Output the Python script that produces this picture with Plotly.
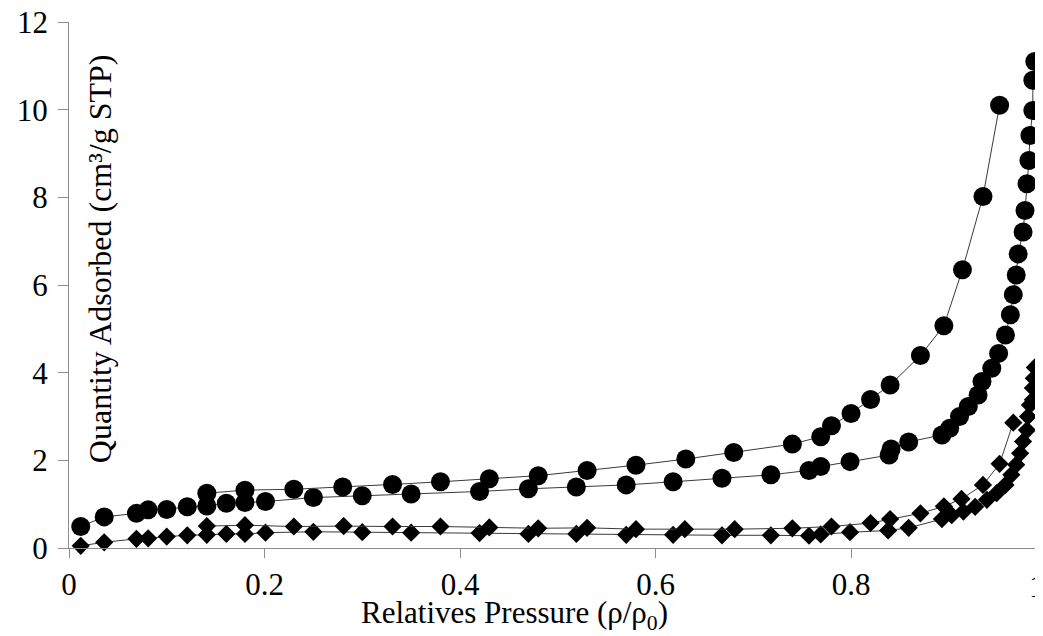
import plotly.graph_objects as go

# Circle series – adsorption (lower branch)
circ_ads_x = [0.012, 0.036, 0.069, 0.081, 0.100, 0.121, 0.141, 0.161, 0.180, 0.201,
              0.250, 0.300, 0.350, 0.420, 0.470, 0.519, 0.570, 0.618, 0.668, 0.718,
              0.757, 0.769, 0.799, 0.839, 0.841, 0.859, 0.893, 0.901, 0.911, 0.920,
              0.930, 0.934, 0.944, 0.951, 0.958, 0.963, 0.966, 0.969, 0.971, 0.976,
              0.978, 0.980, 0.982, 0.983, 0.986, 0.986, 0.988]
circ_ads_y = [0.49, 0.71, 0.79, 0.87, 0.88, 0.94, 0.96, 1.02, 1.04, 1.06,
              1.15, 1.19, 1.23, 1.29, 1.35, 1.39, 1.44, 1.51, 1.59, 1.67,
              1.77, 1.86, 1.97, 2.12, 2.26, 2.42, 2.58, 2.73, 3.00, 3.23,
              3.49, 3.80, 4.10, 4.44, 4.86, 5.32, 5.78, 6.23, 6.71, 7.21,
              7.70, 8.31, 8.84, 9.41, 9.98, 10.67, 11.10]

# Circle series – desorption (upper branch)
circ_des_x = [0.141, 0.180, 0.230, 0.280, 0.331, 0.380, 0.430, 0.480, 0.530, 0.580,
              0.631, 0.680, 0.740, 0.769, 0.780, 0.800, 0.820, 0.840, 0.871, 0.895,
              0.914, 0.935, 0.952]
circ_des_y = [1.25, 1.32, 1.34, 1.39, 1.45, 1.51, 1.58, 1.65, 1.77, 1.89,
              2.03, 2.18, 2.37, 2.54, 2.79, 3.07, 3.39, 3.72, 4.39, 5.07,
              6.35, 8.02, 10.10]

# Diamond series – adsorption (lower branch)
diam_ads_x = [0.012, 0.036, 0.069, 0.081, 0.100, 0.121, 0.141, 0.161, 0.180, 0.201,
              0.250, 0.300, 0.350, 0.420, 0.470, 0.519, 0.570, 0.618, 0.668, 0.718,
              0.757, 0.769, 0.799, 0.838, 0.859, 0.893, 0.903, 0.915, 0.927, 0.939,
              0.949, 0.958, 0.964, 0.969, 0.973, 0.976, 0.980, 0.981, 0.983, 0.986,
              0.986, 0.987, 0.988]
diam_ads_y = [0.05, 0.13, 0.21, 0.22, 0.26, 0.29, 0.30, 0.32, 0.32, 0.35,
              0.37, 0.36, 0.35, 0.34, 0.32, 0.32, 0.30, 0.30, 0.29, 0.29,
              0.28, 0.31, 0.36, 0.40, 0.46, 0.66, 0.75, 0.83, 0.94, 1.10,
              1.25, 1.44, 1.67, 1.90, 2.16, 2.43, 2.69, 3.00, 3.26, 3.38,
              3.65, 3.87, 4.12]

# Diamond series – desorption (upper branch)
diam_des_x = [0.141, 0.180, 0.230, 0.281, 0.331, 0.380, 0.430, 0.480, 0.530, 0.580,
              0.630, 0.681, 0.740, 0.780, 0.820, 0.840, 0.871, 0.895, 0.913, 0.935,
              0.952, 0.966]
diam_des_y = [0.50, 0.52, 0.49, 0.50, 0.49, 0.49, 0.47, 0.45, 0.46, 0.43,
              0.43, 0.43, 0.45, 0.49, 0.57, 0.66, 0.79, 0.95, 1.12, 1.44,
              1.92, 2.86]

x_ticks = [0, 0.2, 0.4, 0.6, 0.8]
x_tick_labels = ["0", "0.2", "0.4", "0.6", "0.8"]
x_last_label = "1"
y_ticks = [0, 2, 4, 6, 8, 10, 12]
y_tick_labels = ["0", "2", "4", "6", "8", "10", "12"]

FONT = "Liberation Serif"
FS = 31
LINE_COL = "#3a3a3a"
AXIS_COL = "#8c8c8c"
X_MAX = 0.9964  # the reference plot runs just past the right edge of the picture
Y_MAX = 12

fig = go.Figure()

def add(xs, ys, symbol, size):
    fig.add_trace(go.Scatter(
        x=xs, y=ys, mode="lines+markers",
        line=dict(color=LINE_COL, width=1),
        marker=dict(symbol=symbol, size=size, color="black", line=dict(width=0)),
        showlegend=False, cliponaxis=False))

add(diam_ads_x, diam_ads_y, "diamond", 14)
add(diam_des_x, diam_des_y, "diamond", 14)
add(circ_ads_x, circ_ads_y, "circle", 19)
add(circ_des_x, circ_des_y, "circle", 19)

# top y label drawn as annotation (Plotly drops it when it touches the page edge)
shown_y_text = [t if v != Y_MAX else "" for v, t in zip(y_ticks, y_tick_labels)]

# the page body has an 8px margin; figure sized so it fills the 1043x636 window
fig.update_layout(
    width=1035, height=628,
    margin=dict(l=61, r=0, t=14, b=88, autoexpand=False),
    paper_bgcolor="white", plot_bgcolor="white",
    font=dict(family=FONT, size=FS, color="black"),
    xaxis=dict(range=[0, X_MAX], tickvals=x_ticks, ticktext=x_tick_labels,
               automargin=False,
               showgrid=False, zeroline=False, showline=True,
               linecolor=AXIS_COL, linewidth=1.3,
               ticks="outside", ticklen=9, tickcolor=AXIS_COL, tickwidth=1.3,
               tickfont=dict(family=FONT, size=FS, color="black")),
    yaxis=dict(range=[0, Y_MAX], tickvals=y_ticks, ticktext=shown_y_text,
               automargin=False,
               showgrid=False, zeroline=False, showline=True,
               linecolor=AXIS_COL, linewidth=1.3,
               ticks="outside", ticklen=10, tickcolor=AXIS_COL, tickwidth=1.3,
               ticklabelstandoff=4,
               tickfont=dict(family=FONT, size=FS, color="black")),
    annotations=[
        dict(text=y_tick_labels[-1], xref="paper", yref="y",
             x=-0.0154, y=Y_MAX, xanchor="right", yanchor="middle",
             xshift=-4, showarrow=False,
             font=dict(family=FONT, size=FS, color="black")),
        dict(text=x_last_label, xref="paper", yref="paper",
             x=0.994, y=-0.074, xanchor="center", yanchor="middle",
             showarrow=False, font=dict(family=FONT, size=FS, color="black")),
        dict(text="Quantity Adsorbed (cm³/g STP)", textangle=-90,
             xref="paper", yref="paper", x=0.0318, y=0.551,
             xanchor="center", yanchor="middle", showarrow=False,
             font=dict(family=FONT, size=32, color="black")),
        dict(text="Relatives Pressure (ρ/ρ<sub>0</sub>)",
             xref="paper", yref="paper", x=0.457, y=-0.127,
             xanchor="center", yanchor="middle", showarrow=False,
             font=dict(family=FONT, size=FS, color="black")),
    ],
)

fig.write_html("out.html")
